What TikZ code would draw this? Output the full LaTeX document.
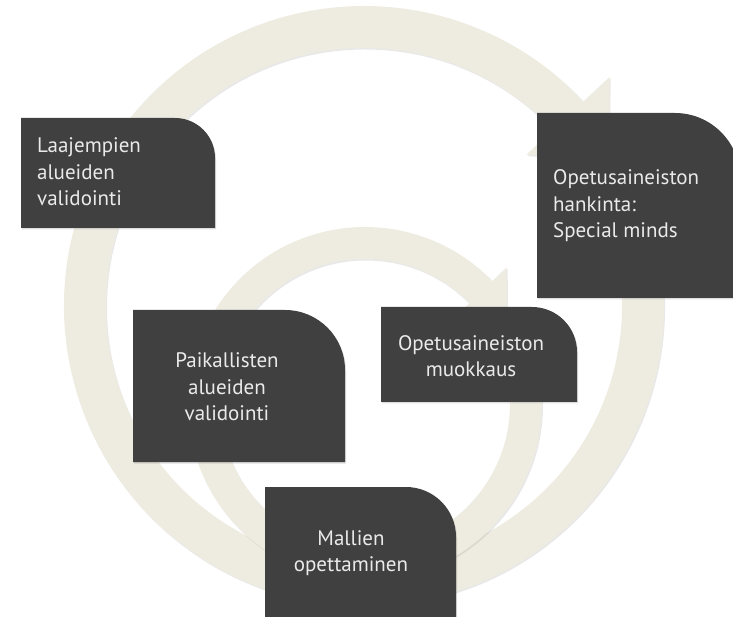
\documentclass[tikz,border=0pt]{standalone}
\usepackage{fontspec}
\setmainfont{PT Sans}
\usepackage{xcolor}
\usepackage{tikz}
\usetikzlibrary{calc, shadows}
\definecolor{ringcol}{HTML}{EEECE1}
\definecolor{cardcol}{HTML}{404040}
\definecolor{cardtext}{HTML}{EAEAEA}
% card with one rounded corner (top right): x1, y1, x2, y2, radius
\newcommand{\card}[5]{%
  \fill[cardfill] (#1,#2) -- (#1,#4) -- ({#3-#5},#4)
    arc[start angle=90, end angle=0, radius=#5pt] -- (#3,#2) -- cycle;}

\begin{document}
\begin{tikzpicture}[
    x=1pt, y=1pt,
    ring/.style={fill=ringcol, drop shadow={shadow xshift=1pt, shadow yshift=-1.5pt, opacity=0.18}},
    cardfill/.style={fill=cardcol, drop shadow={shadow xshift=1pt, shadow yshift=-1.5pt, opacity=0.25}},
    label/.style={text=cardtext, inner sep=0pt, font=\fontsize{21}{26.5}\selectfont}
]
    \useasboundingbox (0,0) rectangle (733,616);

    % Outer cycle
    \coordinate (bigc) at (364,310);
    \fill[ring] ($(bigc)+(10:300pt)$) arc[start angle=10, end angle=-317, radius=300pt]
        -- ($(bigc)+(43:336pt)$) -- ($(bigc)+(30.9:285pt)$) -- ($(bigc)+(43:222pt)$)
        -- ($(bigc)+(43:258pt)$) arc[start angle=43, end angle=370, radius=258pt] -- cycle;

    % Inner cycle
    \coordinate (smallc) at (365,212);
    \fill[ring] ($(smallc)+(12:177pt)$) arc[start angle=12, end angle=-316, radius=177pt]
        -- ($(smallc)+(44:197pt)$) -- ($(smallc)+(30.7:165pt)$) -- ($(smallc)+(44:125pt)$)
        -- ($(smallc)+(44:145pt)$) arc[start angle=44, end angle=372, radius=145pt] -- cycle;

    % Cards
    \card{21}{388}{215}{498}{40}
    \card{537}{318}{740}{503}{65}
    \card{133}{154}{345}{306}{60}
    \card{381}{214}{577}{309}{45}
    \card{265}{-40}{456}{129}{50}

    % Texts
    \node[label, align=left, anchor=west] (laaj) at (37,444) {Laajempien\\alueiden\\validointi};
    \node[label, align=left, anchor=west] (hank) at (553,410) {Opetusaineiston\\hankinta:\\Special minds};
    \node[label, align=center] (paik) at (227,229) {Paikallisten\\alueiden\\validointi};
    \node[label, align=center] (muok) at (471,260) {Opetusaineiston\\muokkaus};
    \node[label, align=center] (mall) at (351,63) {Mallien\\opettaminen};
\end{tikzpicture}
\end{document}
